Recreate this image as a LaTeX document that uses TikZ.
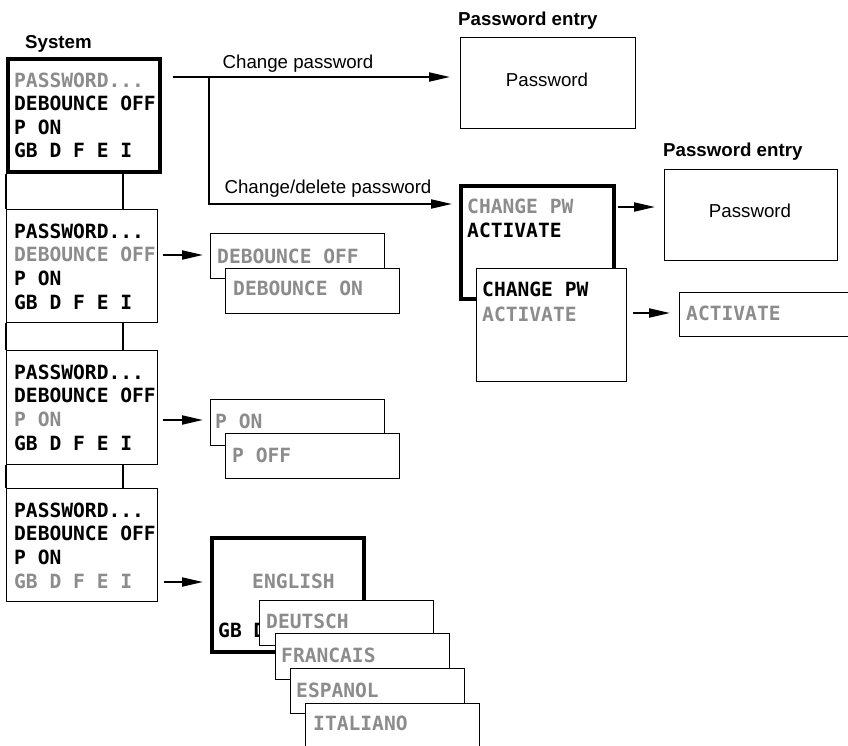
\documentclass[tikz,border=0pt]{standalone}
\usepackage{fontspec}
\setmainfont{Liberation Sans}
\newfontfamily\lcdfont{DejaVu Sans Mono}
\usetikzlibrary{arrows.meta}
\definecolor{lcdgray}{RGB}{140,140,140}
\begin{document}
\begin{tikzpicture}[x=1pt,y=-1pt,
  thinbox/.style={draw,line width=1.4pt,fill=white,inner sep=0pt,anchor=north west},
  thickbox/.style={draw,line width=3.5pt,fill=white,inner sep=0pt,anchor=north west},
  lcdtxt/.style={anchor=base west,inner sep=0pt,font=\lcdfont\bfseries\fontsize{19.6}{20}\selectfont},
  dimtxt/.style={lcdtxt,text=lcdgray},
  lbl/.style={anchor=base,inner sep=0pt,font=\fontsize{18.7}{20}\selectfont},
  ttl/.style={anchor=base west,inner sep=0pt,font=\bfseries\fontsize{18.7}{20}\selectfont},
  arr/.style={line width=2pt,-{Triangle[length=21pt,width=9pt]}},
  link/.style={line width=1.4pt}]
\useasboundingbox (0,0) rectangle (848,745);

% ---------- System column ----------
\node[ttl] (tsys) at (25,48) {System};
\node[thickbox,minimum width=152pt,minimum height=113pt] (sys) at (6,57) {};
\node[dimtxt] (s1) at (14,87) {PASSWORD...};
\node[lcdtxt] (s2) at (14,110.5) {DEBOUNCE OFF};
\node[lcdtxt] (s3) at (14,134) {P ON};
\node[lcdtxt] (s4) at (14,157.5) {GB D F E I};

\node[thinbox,minimum width=151pt,minimum height=113pt] (d2) at (6,209) {};
\node[lcdtxt] (d2a) at (14,238) {PASSWORD...};
\node[dimtxt] (d2b) at (14,261.5) {DEBOUNCE OFF};
\node[lcdtxt] (d2c) at (14,285) {P ON};
\node[lcdtxt] (d2d) at (14,309) {GB D F E I};

\node[thinbox,minimum width=151pt,minimum height=114pt] (d3) at (6,350) {};
\node[lcdtxt] (d3a) at (14,379) {PASSWORD...};
\node[lcdtxt] (d3b) at (14,402.5) {DEBOUNCE OFF};
\node[dimtxt] (d3c) at (14,426) {P ON};
\node[lcdtxt] (d3d) at (14,450) {GB D F E I};

\node[thinbox,minimum width=151pt,minimum height=113pt] (d4) at (6,488) {};
\node[lcdtxt] (d4a) at (14,517) {PASSWORD...};
\node[lcdtxt] (d4b) at (14,540.5) {DEBOUNCE OFF};
\node[lcdtxt] (d4c) at (14,564) {P ON};
\node[dimtxt] (d4d) at (14,588) {GB D F E I};

\draw[link] (sys.south west) -- (d2.north west);
\draw[link] ([xshift=117pt]sys.south west) -- ([xshift=117pt]d2.north west);
\draw[link] (d2.south west) -- (d3.north west);
\draw[link] ([xshift=117pt]d2.south west) -- ([xshift=117pt]d3.north west);
\draw[link] (d3.south west) -- (d4.north west);
\draw[link] ([xshift=117pt]d3.south west) -- ([xshift=117pt]d4.north west);

% ---------- Debounce ----------
\node[thinbox,minimum width=174pt,minimum height=45pt] (deboff) at (210,233) {};
\node[dimtxt] (tdeboff) at (217,263) {DEBOUNCE OFF};
\node[thinbox,minimum width=174pt,minimum height=45pt] (debon) at (225,268) {};
\node[dimtxt] (tdebon) at (233,295) {DEBOUNCE ON};

% ---------- P ON ----------
\node[thinbox,minimum width=174pt,minimum height=46pt] (pon) at (210,399) {};
\node[dimtxt] (tpon) at (215,428) {P ON};
\node[thinbox,minimum width=174pt,minimum height=45pt] (poff) at (225,433) {};
\node[dimtxt] (tpoff) at (232,462) {P OFF};

% ---------- Languages ----------
\node[thickbox,minimum width=152pt,minimum height=114pt] (eng) at (210,536) {};
\node[dimtxt] (teng) at (252,588) {ENGLISH};
\node[lcdtxt] (tgb) at (218,637) {GB D};
\node[thinbox,minimum width=174pt,minimum height=45pt] (deu) at (259,600) {};
\node[dimtxt] (tdeu) at (266,628) {DEUTSCH};
\node[thinbox,minimum width=174pt,minimum height=46pt] (fra) at (275,633) {};
\node[dimtxt] (tfra) at (281,662) {FRANCAIS};
\node[thinbox,minimum width=174pt,minimum height=45pt] (esp) at (290,668) {};
\node[dimtxt] (tesp) at (296,697) {ESPANOL};
\node[thinbox,minimum width=174pt,minimum height=60pt] (ita) at (305,703) {};
\node[dimtxt] (tita) at (313,730) {ITALIANO};

% ---------- Password ----------
\node[ttl] (tpe1) at (458,25) {Password entry};
\node[thinbox,minimum width=175pt,minimum height=91pt] (pw1) at (460,37) {};
\node[lbl] (tpw1) at (547,86) {Password};

\node[ttl] (tpe2) at (663,156) {Password entry};
\node[thinbox,minimum width=173pt,minimum height=91pt] (pw2) at (664,169) {};
\node[lbl] (tpw2) at (750,217) {Password};

\node[thickbox,minimum width=153pt,minimum height=113pt] (cp1) at (459,184) {};
\node[dimtxt] (cp1a) at (467,213) {CHANGE PW};
\node[lcdtxt] (cp1b) at (467,237) {ACTIVATE};
\node[thinbox,minimum width=150pt,minimum height=113pt] (cp2) at (476,268) {};
\node[lcdtxt] (cp2a) at (482,296) {CHANGE PW};
\node[dimtxt] (cp2b) at (482,321) {ACTIVATE};

\node[thinbox,minimum width=185pt,minimum height=44pt] (act) at (679,292) {};
\node[dimtxt] (tact) at (686,320) {ACTIVATE};

% ---------- Connectors ----------
\coordinate (s0) at (173,77);
\coordinate (b0) at (209,77);
\coordinate (b1) at (209,204);
\draw[arr] (s0) -- ([xshift=-10pt]s0 -| pw1.west);
\draw[arr] (b0) -- (b1) -- ([xshift=-7pt]b1 -| cp1.west);
\node[lbl] (lcp) at (298,68) {Change password};
\node[lbl] (lcdp) at (328,193) {Change/delete password};

\coordinate (a2) at (163,255);
\coordinate (a3) at (163,420);
\coordinate (a4) at (164,582);
\draw[arr] (a2) -- ([xshift=-7pt]a2 -| deboff.west);
\draw[arr] (a3) -- ([xshift=-7pt]a3 -| pon.west);
\draw[arr] (a4) -- ([xshift=-7pt]a4 -| eng.west);

\coordinate (c1) at (618,207);
\coordinate (c2) at (633,313);
\draw[arr] (c1) -- ([xshift=-9pt]c1 -| pw2.west);
\draw[arr] (c2) -- ([xshift=-9pt]c2 -| act.west);
\end{tikzpicture}
\end{document}
